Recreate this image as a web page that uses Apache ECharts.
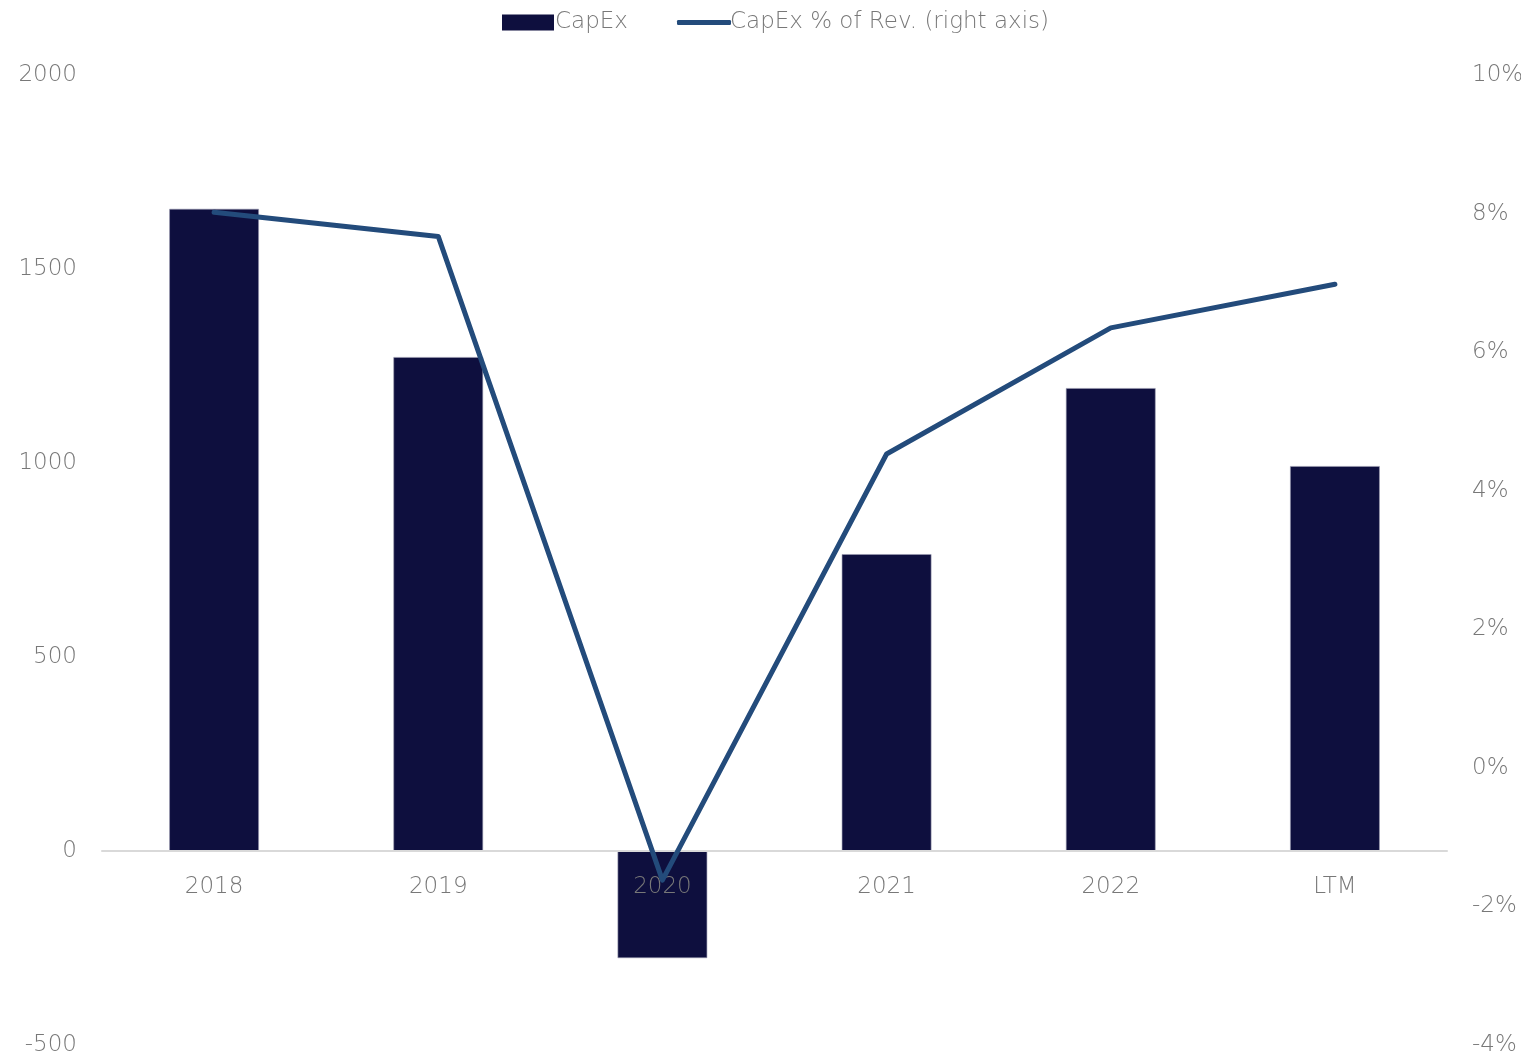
<!DOCTYPE html>
<html>
<head>
<meta charset="utf-8">
<script src="https://cdn.jsdelivr.net/npm/echarts@6/dist/echarts.min.js"></script>
<style>
  html, body { margin: 0; padding: 0; background: #ffffff; }
  #chart { width: 1521px; height: 1059px; }
</style>
</head>
<body>
<div id="chart"></div>
<script>
// Capital expenditure and its share of revenue by year
const categories = ['2018', '2019', '2020', '2021', '2022', 'LTM'];
const capex = [1655, 1273, -276, 765, 1193, 992];
const capexPctRev = [8.02, 7.67, -1.62, 4.53, 6.35, 6.98];

const leftTicks = { min: -500, max: 2000, interval: 500 };
const rightTicks = { min: -4, max: 10, interval: 2 };

const FONT = '"DejaVu Sans", "Open Sans", sans-serif';
const GREY = '#787878';
const BAR_COLOR = '#0e0f3e';
const LINE_COLOR = '#234b7b';

const labelStyle = { color: GREY, fontSize: 23, fontWeight: 200, fontFamily: FONT };
const GRID = { left: 102, right: 74, top: 75, bottom: 14 };

const chart = echarts.init(document.getElementById('chart'));

function buildOption(xAxisOffset) {
  return {
    animation: false,
    backgroundColor: '#ffffff',
    textStyle: { fontFamily: FONT },
    legend: [
      {
        left: 497,
        top: 6,
        itemWidth: 52,
        itemHeight: 16,
        textStyle: Object.assign({}, labelStyle, { padding: [0, 0, 0, -4] }),
        data: [{ name: 'CapEx', icon: 'rect', itemStyle: { borderWidth: 0 } }]
      },
      {
        left: 672,
        top: 6,
        itemWidth: 54,
        itemHeight: 5,
        textStyle: Object.assign({}, labelStyle, { padding: [0, 0, 0, -6] }),
        data: [{ name: 'CapEx % of Rev. (right axis)', icon: 'roundRect' }]
      }
    ],
    grid: Object.assign({ containLabel: false, outerBoundsMode: 'none' }, GRID),
    xAxis: {
      type: 'category',
      data: categories,
      z: 2,
      offset: xAxisOffset,
      axisLine: { onZero: false, lineStyle: { color: '#d9d9d9', width: 2 } },
      axisTick: { show: false },
      axisLabel: Object.assign({}, labelStyle, { margin: 25 })
    },
    yAxis: [
      {
        type: 'value',
        min: leftTicks.min, max: leftTicks.max, interval: leftTicks.interval,
        splitLine: { show: false },
        axisLine: { show: false },
        axisTick: { show: false },
        axisLabel: Object.assign({}, labelStyle, { margin: 25, formatter: v => String(v) })
      },
      {
        type: 'value',
        min: rightTicks.min, max: rightTicks.max, interval: rightTicks.interval,
        splitLine: { show: false },
        axisLine: { show: false },
        axisTick: { show: false },
        axisLabel: Object.assign({}, labelStyle, { margin: 25, formatter: '{value}%' })
      }
    ],
    series: [
      {
        name: 'CapEx',
        type: 'bar',
        yAxisIndex: 0,
        z: 1,
        barWidth: '40%',
        itemStyle: { color: BAR_COLOR, borderColor: '#9a9bb0', borderWidth: 0.6 },
        data: capex
      },
      {
        name: 'CapEx % of Rev. (right axis)',
        type: 'line',
        yAxisIndex: 1,
        z: 3,
        symbol: 'none',
        lineStyle: { color: LINE_COLOR, width: 5, cap: 'round', join: 'round' },
        itemStyle: { color: LINE_COLOR },
        data: capexPctRev
      }
    ]
  };
}

// First pass lays out the grid; then the category axis (line and labels)
// is moved up so it sits on the zero value of the left axis.
chart.setOption(buildOption(0));
const zeroY = chart.convertToPixel({ yAxisIndex: 0 }, 0);
const gridBottomY = chart.getHeight() - GRID.bottom;
chart.setOption(buildOption(zeroY - gridBottomY));
</script>
</body>
</html>
